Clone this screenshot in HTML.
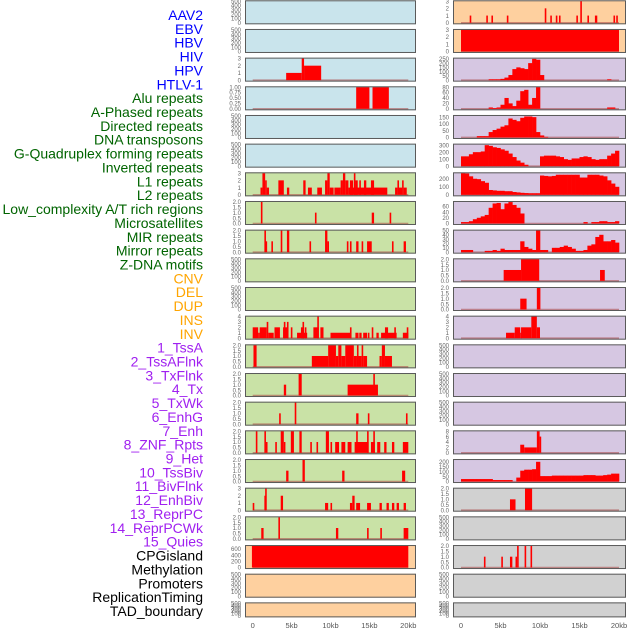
<!DOCTYPE html>
<html><head><meta charset="utf-8"><style>
html,body{margin:0;padding:0;background:#fff;}
svg{display:block;font-family:"Liberation Sans",sans-serif;}
</style></head><body>
<svg id="chart" width="630" height="630" viewBox="0 0 630 630" xmlns="http://www.w3.org/2000/svg">
<g id="labels" font-size="14" text-anchor="end"></g>
<g id="panels"></g>
<g id="xaxes" font-size="7.5" fill="#555" text-anchor="middle"></g>
</svg>
<script>
// ---- labels ----
const labelNames = ["AAV2","EBV","HBV","HIV","HPV","HTLV-1","Alu repeats","A-Phased repeats","Directed repeats","DNA transposons","G-Quadruplex forming repeats","Inverted repeats","L1 repeats","L2 repeats","Low_complexity A/T rich regions","Microsatellites","MIR repeats","Mirror repeats","Z-DNA motifs","CNV","DEL","DUP","INS","INV","1_TssA","2_TssAFlnk","3_TxFlnk","4_Tx","5_TxWk","6_EnhG","7_Enh","8_ZNF_Rpts","9_Het","10_TssBiv","11_BivFlnk","12_EnhBiv","13_ReprPC","14_ReprPCWk","15_Quies","CPGisland","Methylation","Promoters","ReplicationTiming","TAD_boundary"];
const labelGroups = [0,0,0,0,0,0,1,1,1,1,1,1,1,1,1,1,1,1,1,2,2,2,2,2,3,3,3,3,3,3,3,3,3,3,3,3,3,3,3,4,4,4,4,4];
const groupColors = ["#0000ff","#006400","#ffa500","#a020f0","#000000"];

// ---- x axis ----
const xTickValues = [0,5,10,15,20];
const xTickLabels = ["0","5kb","10kb","15kb","20kb"];

// ---- left column data: segments [startKb, endKb, value] ----
const L0 = [], L1 = [];
const L2 = [[4.3,6.3,1],[6.3,6.6,3],[6.6,8.8,2]];
const L3 = [[13.3,15.0,1],[15.4,17.5,1]];
const L4 = [], L5 = [];
const L6 = [[1.0,1.25,1],[1.25,1.6,3],[1.6,1.8,2],[1.8,2.1,1],[3.3,4.0,2],[4.4,4.7,1],[6.5,6.8,2],[7.1,7.6,1],[8.3,8.9,1],[9.3,9.6,2],[9.6,9.9,3],[9.9,10.4,1],[10.5,11.3,1],[11.3,11.6,2],[11.6,11.9,3],[11.9,12.3,2],[12.3,17.3,1],[12.5,12.9,2],[13.0,13.2,3],[13.2,13.5,2],[13.7,13.9,2],[14.3,14.6,2],[15.2,15.6,2],[18.3,18.6,1],[18.6,18.8,2],[18.8,19.2,1],[19.2,19.4,2],[19.4,19.8,1]];
const L7 = [[1.05,1.25,2],[8.0,8.2,1],[15.3,15.6,1],[17.6,17.8,1]];
const L8 = [[1.5,1.65,2],[1.65,1.8,1],[2.4,2.6,1],[3.6,3.8,2],[4.4,4.7,2],[7.3,7.5,1],[9.3,9.6,2],[9.6,9.7,1],[12.1,12.3,1],[12.5,12.7,1],[13.3,13.6,1],[14.0,14.2,1],[14.7,15.3,1],[17.9,18.1,1],[19.4,19.7,1]];
const L9 = [], L10 = [];
const L11 = [[0,0.7,2],[0.7,0.9,1],[0.9,1.8,2],[1.8,2.0,3],[2.0,2.7,1],[2.8,3.5,2],[3.9,4.6,2],[4.0,4.1,3],[4.4,4.5,3],[4.9,5.1,2],[5.7,7.0,1],[6.2,6.6,2],[6.4,6.5,3],[6.7,6.9,2],[7.8,8.5,2],[8.3,8.4,4],[8.7,9.1,2],[10.0,12.7,1],[12.5,12.7,2],[13.2,13.6,1],[13.7,14.0,1],[14.2,14.7,1],[14.8,15.0,1],[15.3,15.5,2],[15.9,16.2,1],[16.5,18.5,1],[17.0,17.4,2],[18.2,18.4,2],[19.3,20.0,1],[19.8,19.95,2]];
const L12 = [[0.1,0.5,2],[7.6,9.7,1],[9.7,10.7,2],[10.7,11.0,1],[11.0,11.4,2],[11.4,11.9,1],[11.9,13.0,2],[13.0,13.4,1],[13.4,13.6,2],[13.6,14.0,1],[14.0,14.2,2],[14.2,14.7,1],[16.3,16.6,1],[16.6,17.0,2],[17.0,17.9,1]];
const L13 = [[4.0,4.3,1],[5.9,6.3,2],[12.2,16.1,1],[15.5,15.7,2]];
const L14 = [[3.4,3.6,1],[5.4,5.6,2],[13.3,13.6,1],[14.8,15.0,1],[19.7,19.9,1]];
const L15 = [[0.4,0.6,2],[1.5,1.7,2],[1.7,1.9,1],[2.9,3.1,1],[3.6,4.0,2],[4.0,4.2,1],[4.9,5.3,2],[6.0,6.3,2],[7.4,7.6,1],[8.2,8.35,1],[9.4,9.8,2],[10.0,10.2,1],[10.6,11.1,1],[11.4,11.9,1],[12.2,12.7,1],[13.1,14.9,1],[13.3,13.5,2],[14.7,14.9,2],[15.2,15.7,1],[15.5,15.65,2],[16.0,16.4,1],[16.9,17.2,1],[17.9,18.2,1],[19.3,20.0,1]];
const L16 = [[4.3,4.6,1],[6.4,6.7,2],[11.5,11.8,1],[19.2,19.6,1]];
const L17 = [[0.0,0.15,1],[1.5,1.6,2],[1.6,1.8,3],[3.6,3.9,2],[9.3,9.7,1],[10.0,10.15,1],[12.5,12.8,1],[12.8,13.1,2],[13.3,13.8,1],[14.7,15.2,1],[16.3,16.6,1],[17.2,17.5,1],[17.9,18.2,1],[18.5,18.8,1],[19.4,19.7,1]];
const L18 = [[1.1,1.4,1],[3.3,3.5,2],[10.7,11.0,1],[14.7,14.9,1],[16.4,16.6,1],[19.4,20.0,1]];
const L19 = [[-0.1,20.0,700]];
const L20 = [], L21 = [];
const leftSegs = [L0,L1,L2,L3,L4,L5,L6,L7,L8,L9,L10,L11,L12,L13,L14,L15,L16,L17,L18,L19,L20,L21];
const leftYmax = [500,500,3,1,500,500,3,2,2,500,500,4,2,2,2,2,2,3,2,700,500,500];
const leftTicks = [["0","100","200","300","400","500"],["0","100","200","300","400","500"],["0","1","2","3"],["0.00","0.25","0.50","0.75","1.00"],["0","100","200","300","400","500"],["0","100","200","300","400","500"],["0","1","2","3"],["0.0","0.5","1.0","1.5","2.0"],["0.0","0.5","1.0","1.5","2.0"],["0","100","200","300","400","500"],["0","100","200","300","400","500"],["0","1","2","3","4"],["0.0","0.5","1.0","1.5","2.0"],["0.0","0.5","1.0","1.5","2.0"],["0.0","0.5","1.0","1.5","2.0"],["0.0","0.5","1.0","1.5","2.0"],["0.0","0.5","1.0","1.5","2.0"],["0","1","2","3"],["0.0","0.5","1.0","1.5","2.0"],["0","200","400","600"],["0","100","200","300","400","500"],["0","100","200","300","400","500"]];

// ---- right column data ----
const R0 = [[1.1,1.3,1],[3.2,3.4,1],[3.85,4.05,1],[5.8,6.0,1],[10.6,10.8,2],[11.3,11.5,1],[12.0,12.2,1],[12.4,12.6,1],[14.6,14.8,1],[15.1,15.3,3],[16.0,16.2,1],[16.95,17.25,1],[19.3,19.5,1],[19.65,19.85,1]];
const R1 = [[0,20,3]];
const R2bins = [0,0,0,0,0,0,0,10,10,10,15,30,60,130,150,140,130,200,250,240,60,0,0,0,0,0,0,0,0,0,0,0,0,0,0,0,0,10,0,0];
const R3bins = [0,0,0,0,0,0,0,5,3,5,15,40,20,10,30,65,70,15,40,80,0,0,0,0,0,0,0,0,0,0,0,0,0,0,0,0,0,5,5,0];
const R4bins = [0,0,0,0,10,10,10,40,55,65,80,90,140,130,120,145,155,155,150,40,15,5,0,0,0,0,0,0,0,0,0,0,0,0,0,0,0,0,0,0];
const R5bins = [140,140,170,200,200,210,300,290,270,260,240,220,180,130,80,50,20,0,0,0,140,150,150,150,140,130,100,90,110,110,130,140,130,100,90,100,100,150,180,220];
const R6bins = [270,265,230,200,195,170,150,60,55,50,50,45,45,35,30,25,22,20,20,20,240,235,230,235,250,250,250,250,250,250,215,215,250,250,250,240,230,180,140,100];
const R7bins = [5,5,8,15,20,25,30,55,70,72,50,70,75,65,55,35,0,0,0,0,0,0,0,0,0,0,0,0,0,0,0,5,0,5,5,8,8,5,5,8];
const R8bins = [5,5,5,0,0,0,3,3,5,3,8,5,5,5,5,25,12,8,5,50,5,5,0,10,10,12,15,12,8,3,3,5,15,18,35,40,25,25,28,22];
const R9 = [[5.4,7.6,1],[7.6,9.9,2],[17.6,18.2,1]];
const R10 = [[7.5,8.3,1],[9.6,10.05,2]];
const R11 = [[5.7,6.8,1],[6.8,7.5,2],[7.5,7.6,1],[7.6,8.9,2],[8.9,9.6,4],[9.6,10.0,2]];
const R15 = [[7.5,8.0,3],[8.0,9.6,2],[9.6,9.95,8],[9.95,10.1,6]];
const R16bins = [25,25,25,25,25,25,25,25,15,15,15,15,15,0,40,110,120,120,125,200,55,55,55,60,60,60,60,60,60,60,60,65,65,65,60,60,65,70,80,80];
const R17 = [[6.2,6.9,1],[8.1,9.0,2]];
const R19 = [[2.9,3.1,1],[5.1,5.3,1],[6.2,6.5,1],[6.9,7.1,1],[7.1,7.3,2],[8.05,8.25,2],[8.8,9.0,2]];
const rightData = [R0,R1,R2bins,R3bins,R4bins,R5bins,R6bins,R7bins,R8bins,R9,R10,R11,[],[],[],R15,R16bins,R17,[],R19,[],[]];
const rightIsBins = [false,false,true,true,true,true,true,true,true,false,false,false,false,false,false,false,true,false,false,false,false,false];
const binWidthKb = 0.5;
const rightYmax = [3,3,255,80,160,310,270,76,50,2,2,4,500,500,500,8,220,2,500,2,500,500];
const rightTicks = [["0","1","2","3"],["0","1","2","3"],["0","50","100","150","200","250"],["0","20","40","60","80"],["0","50","100","150"],["0","100","200","300"],["0","100","200"],["0","20","40","60"],["0","10","20","30","40","50"],["0.0","0.5","1.0","1.5","2.0"],["0.0","0.5","1.0","1.5","2.0"],["0","1","2","3","4"],["0","100","200","300","400","500"],["0","100","200","300","400","500"],["0","100","200","300","400","500"],["0","2","4","6","8"],["0","50","100","150","200"],["0.0","0.5","1.0","1.5","2.0"],["0","100","200","300","400","500"],["0.0","0.5","1.0","1.5","2.0"],["0","100","200","300","400","500"],["0","100","200","300","400","500"]];

// ---- styles (not data) ----
const BG = {blue:"#c9e4ec",green:"#c9e2a6",lav:"#d6c7e2",orange:"#fed09f",gray:"#d1d1d1"};
const NS = "http://www.w3.org/2000/svg";
function mk(tag, attrs, parent){const e=document.createElementNS(NS,tag);for(const k in attrs)e.setAttribute(k,attrs[k]);parent.appendChild(e);return e;}

const labelsG = document.getElementById('labels');
labelNames.forEach((t,i)=>{
  const el = mk('text',{x:203,y:20+i*13.86,fill:groupColors[labelGroups[i]]},labelsG);
  
  
  el.textContent = t;
});

const panelsG = document.getElementById('panels');
const cols = [
  {x0:245,x1:416,z:252.7,k:7.78,tx:241},
  {x0:453,x1:626,z:461,k:7.9,tx:449}
];
function xScale(c,kb){return c.z+kb*c.k;}
function rowTop(i){return 0.3+i*28.67;}
function rowH(i){return i===21?15:24;}

function drawPanel(ci,i,bg,ymax,ticks,segs,bins){
  const c = cols[ci];
  const top=rowTop(i), h=rowH(i);
  const base=top+h-1.5, dtop=top+0.8;
  const yS = v => base - Math.min(v,ymax)/ymax*(base-dtop);
  const g = mk('g',{},panelsG);
  
  
  mk('rect',{x:c.x0,y:top,width:c.x1-c.x0,height:h,fill:bg},g);
  const hasData = (segs&&segs.length)||(bins&&bins.some(v=>v>0));
  if(hasData){
    mk('line',{x1:xScale(c,0),x2:xScale(c,20),y1:base,y2:base,stroke:"rgba(170,70,70,0.55)","stroke-width":1.6},g);
  }
  if(segs){segs.forEach(s=>{
    const xa=xScale(c,s[0]), xb=xScale(c,s[1]);
    const r = mk('rect',{x:xa,y:yS(s[2]),width:Math.max(1.6,xb-xa),height:base-yS(s[2]),fill:"#ff0000"},g);
    
    
  });}
  if(bins){bins.forEach((v,j)=>{
    if(v<=0) return;
    const xa=xScale(c,j*binWidthKb), xb=xScale(c,(j+1)*binWidthKb);
    const r = mk('rect',{x:xa,y:yS(v),width:xb-xa+0.3,height:base-yS(v),fill:"#ff0000"},g);
    
    
  });}
  mk('rect',{x:c.x0+0.5,y:top+0.5,width:c.x1-c.x0-1,height:h-1,fill:"none",stroke:"#5a5a5a","stroke-width":1},g);
  // ticks
  const n=ticks.length;
  ticks.forEach((t,j)=>{
    const v = ymax===500 ? j*100 : parseFloat(t);
    const y = ymax===500 ? base - j/(n-1)*(base-dtop) : yS(v);
    const te = mk('text',{x:c.tx,y:y+2.2,"font-size":6,fill:"#666","text-anchor":"end"},g);
    
    
    te.textContent = t;
  });
}
function leftBg(i){return i<6?BG.blue:(i<19?BG.green:BG.orange);}
function rightBg(i){return i<2?BG.orange:(i<17?BG.lav:BG.gray);}
for(let i=0;i<22;i++){
  drawPanel(0,i,leftBg(i),leftYmax[i],leftTicks[i],leftSegs[i],null);
  if(rightIsBins[i]) drawPanel(1,i,rightBg(i),rightYmax[i],rightTicks[i],null,rightData[i]);
  else drawPanel(1,i,rightBg(i),rightYmax[i],rightTicks[i],rightData[i],null);
}
const xg = document.getElementById('xaxes');
cols.forEach((c,ci)=>{
  xTickValues.forEach((v,j)=>{
    const te = mk('text',{x:xScale(c,v),y:628},xg);
    
    
    te.textContent = xTickLabels[j];
  });
});
</script>
</body></html>
